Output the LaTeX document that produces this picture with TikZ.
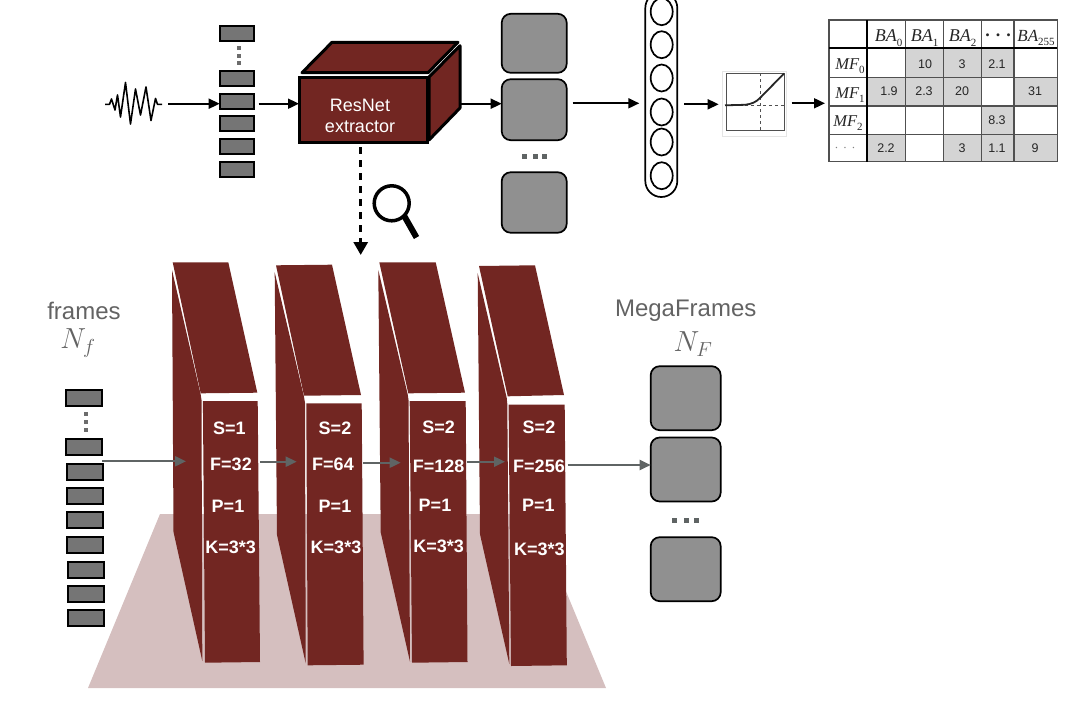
\documentclass[tikz,border=0pt]{standalone}
\usepackage{fix-cm}
\usepackage{fontspec}
\setmainfont{Liberation Sans}
\newfontfamily\tms{Liberation Serif}
\usetikzlibrary{arrows.meta,shapes.geometric}
\definecolor{brick}{HTML}{722622}
\definecolor{framegray}{HTML}{757575}
\definecolor{megagray}{HTML}{909090}
\definecolor{linegray}{HTML}{5F6464}
\definecolor{labelgray}{HTML}{636363}
\definecolor{floorpink}{HTML}{D5BFBF}
\definecolor{cellgray}{HTML}{D4D4D4}
\definecolor{gridgray}{HTML}{505050}
\newcommand\fs[1]{\fontsize{#1}{#1}\selectfont}
\newcommand\tsym[3]{{\tms\itshape\fs{#3}#1\raisebox{-0.28em}{\upshape\fs{11}#2}}}
\tikzset{
  framebox/.style={draw=black,line width=2pt,fill=framegray,minimum width=34pt,minimum height=15pt,inner sep=0pt,outer sep=0pt},
  lowframe/.style={framebox,minimum width=36pt,minimum height=16pt},
  megabox/.style={draw=black,line width=1.7pt,fill=megagray,rounded corners=9pt,minimum width=65pt,minimum height=60pt,inner sep=0pt,outer sep=0pt},
  lowmega/.style={megabox,minimum width=70pt,minimum height=64pt},
  arr/.style={draw=black,line width=1.8pt,-{Triangle[length=11pt,width=10pt]}},
  grayarr/.style={draw=linegray,line width=2pt,-{Triangle[length=11pt,width=10pt]}},
  dotsq/.style={fill=#1,minimum width=5pt,minimum height=5pt,inner sep=0pt},
  neuron/.style={draw=black,line width=1.7pt,fill=white,ellipse,minimum width=22pt,minimum height=27pt,inner sep=0pt},
  brickface/.style={fill=brick,draw=none},
  blocktext/.style={text=white,font=\bfseries\fs{18},inner sep=0pt},
  sidelabel/.style={text=labelgray,inner sep=0pt},
  cellnum/.style={font=\fs{12.5},text=black!85,inner sep=0pt},
  thead/.style={inner sep=0pt,text=black!85},
}
\begin{document}
\begin{tikzpicture}[x=1pt,y=-1pt]
\useasboundingbox (0,0) rectangle (1084,704);
\begin{scope}
\clip (0,0) rectangle (1084,704);

% ---------- top row ----------
\draw[line width=1.6pt,line join=round] (105,104.3)--(109.5,104.3)--(111.5,99)--(115,110)--(117.5,95)--(120.5,117)--(125.5,82.5)--(130.5,124)--(135.5,89)--(140.5,115)--(146,87)--(151,120.5)--(155.5,98.5)--(157.5,104.3)--(162,104.3);
\coordinate (waveend) at (162,103.7);

\foreach \n/\y in {a/33,b/78.5,c/101,d/123.5,e/146.5,f/169.5}
  \node[framebox] (top\n) at (236.7,\y) {};
\foreach \y in {48,56,63}
  \node[dotsq=gray!85!black,minimum width=3.5pt,minimum height=4pt] (tdot\y) at (239,\y) {};

% ResNet box
\node[draw=black,line width=3pt,fill=brick,minimum width=128pt,minimum height=65pt,inner sep=0pt,outer sep=0pt] (resnet) at (363,109.5) {};
\draw[line width=3pt,fill=brick,line join=round] (302,72.7)--(332,42.3)--(458,42.3)--(428,72.7)--cycle;
\draw[line width=3pt,fill=brick,line join=round] (429,77)--(460,45.7)--(460,108)--(429,140)--cycle;
\coordinate (cubeside) at (460,103.7);
\node[text=white,font=\fs{18},align=center,inner sep=0pt] (resnetlabel) at (360,115.5) {ResNet\\[3pt]extractor};

\foreach \n/\y/\h in {a/43.3/59,b/109.7/61,c/202.5/60.5}
  \node[megabox,minimum height=\h pt] (mega\n) at (534.2,\y) {};
\foreach \x in {524,535,544}
  \node[dotsq=linegray] (mdot\x) at (\x,156.7) {};

\node[draw=black,line width=1.7pt,fill=white,rounded corners=16pt,minimum width=32pt,minimum height=205pt,inner sep=0pt,outer sep=0pt] (capsule) at (661.3,94.5) {};
\foreach \n/\y in {a/11.7,b/44.7,c/78,d/112,e/142,f/175.7}
  \node[neuron] (n\n) at (661.7,\y) {};

% activation tile
\node[fill=white,draw=black!10,line width=0.8pt,minimum width=64pt,minimum height=65pt,inner sep=0pt,outer sep=0pt] (acttile) at (754.7,103.5) {};
\node[draw=gridgray,line width=1.2pt,minimum width=58pt,minimum height=57pt,inner sep=0pt,outer sep=0pt] (actbox) at (755.8,101.7) {};
\draw[gridgray,line width=1pt,dash pattern=on 3pt off 3pt] (actbox.west |- 0,105.3) -- (actbox.east |- 0,105.3);
\draw[gridgray,line width=1pt,dash pattern=on 3pt off 3pt] (760,73.3) -- (760,130);
\draw[black!85,line width=1.8pt] (725,105.3) -- (745,104.8) .. controls (752,104) and (756,102) .. (760,98) -- (784,73.5);

% table
\foreach \xa/\ya/\xb/\yb in {
  905.7/48.3/943.3/77.3, 943.3/48.3/981.7/77.3, 981.7/48.3/1014/77.3,
  867/77.3/905.7/106, 905.7/77.3/943.3/106, 943.3/77.3/981.7/106, 1014/77.3/1057.3/106,
  981.7/106/1014/134.3,
  867/134.3/905.7/161.7, 943.3/134.3/981.7/161.7, 981.7/134.3/1014/161.7, 1014/134.3/1057.3/161.7}
  \fill[cellgray] (\xa,\ya) rectangle (\xb,\yb);
\draw[gridgray,line width=1.2pt] (829,20) rectangle (1057.3,161.7);
\foreach \x in {905.7,943.3,981.7,1014}
  \draw[gridgray,line width=1.2pt] (\x,20) -- (\x,161.7);
\foreach \y in {77.3,106,134.3}
  \draw[gridgray,line width=1.2pt] (829,\y) -- (1057.3,\y);
\draw[black,line width=1.8pt] (867,20) -- (867,161.7);
\draw[black,line width=1.8pt] (829,48.3) -- (1057.3,48.3);
\node[thead] (hba0) at (888.5,38) {\tsym{BA}{0}{18}};
\node[thead] (hba1) at (924.5,38) {\tsym{BA}{1}{18}};
\node[thead] (hba2) at (962.5,38) {\tsym{BA}{2}{18}};
\node[thead] (hdots) at (998,35) {\tms\bfseries\fs{18}. . .};
\node[thead] (hba255) at (1036,38) {\tsym{BA}{255}{17}};
\node[thead] (rmf0) at (850,66) {\tsym{MF}{0}{16.5}};
\node[thead] (rmf1) at (850,95) {\tsym{MF}{1}{16.5}};
\node[thead] (rmf2) at (848,123) {\tsym{MF}{2}{16.5}};
\node[thead,text=gray] (rdots) at (845,148) {\tms\fs{14}$\cdot$\,\,$\cdot$\,\,$\cdot$};
\foreach \n/\x/\y/\t in {
  c1/925/64/10, c2/962/64/3, c3/997/64/2.1,
  c4/889/91.5/1.9, c5/924/91.5/2.3, c6/962/91.5/20, c7/1035/91.5/31,
  c8/997/120.5/8.3,
  c9/886/148/2.2, c10/962/148/3, c11/997/148/1.1, c12/1035/148/9}
  \node[cellnum] (\n) at (\x,\y) {\t};

% top arrows
\draw[arr,shorten <=6pt] (waveend) -- (topc.west |- waveend);
\draw[arr,shorten <=5pt] (topc.east |- waveend) -- (resnet.west |- waveend);
\draw[arr] (cubeside) -- (megab.west |- cubeside);
\draw[arr,shorten <=6pt,shorten >=6pt] (megab.east |- 0,103.3) -- (capsule.west |- 0,103.3);
\draw[arr,shorten <=7pt,shorten >=4pt] (capsule.east |- 0,104.3) -- (acttile.west |- 0,104.3);
\draw[arr,shorten <=5pt,shorten >=4pt] (acttile.east |- 0,103.3) -- (829,103.3);

% zoom arrow and magnifier
\coordinate (zoomend) at (360.7,255);
\draw[black,line width=3pt,dash pattern=on 7pt off 6pt,shorten <=5pt,-{Triangle[length=13pt,width=14pt]}] (zoomend |- resnet.south) -- (zoomend);
\node[draw=black,line width=3.5pt,circle,minimum size=35pt,inner sep=0pt,outer sep=0pt,fill=white] (lens) at (391.7,203.3) {};
\draw[black,line width=6pt] (lens.south east) -- (416.5,237.5);

% ---------- lower part ----------
\fill[floorpink] (160,514) -- (534,514) -- (606,688) -- (88,688) -- cycle;

% blocks
\fill[brickface] (172.7,262.3)--(228.3,262.3)--(257.3,392.7)--(200.7,393.3)--cycle;
\fill[brickface] (172,270)--(200.7,394.5)--(201.5,400)--(202.3,661)--(173.5,532)--cycle;
\fill[brickface] (202.9,401)--(257.7,401)--(260,662)--(205,662.7)--cycle;

\fill[brickface] (276,265.3)--(332,264.7)--(361,395)--(304,395.7)--cycle;
\fill[brickface] (274.7,272.3)--(304,396.7)--(305,403)--(305.7,663.3)--(277,535)--cycle;
\fill[brickface] (306.3,403.3)--(361.7,403.3)--(363.6,664.7)--(307.7,665.3)--cycle;

\fill[brickface] (379.3,262.3)--(435.7,262.3)--(465,392.7)--(408.3,393.3)--cycle;
\fill[brickface] (378.3,270)--(407.7,394.3)--(408.5,400)--(410,661.7)--(380.7,532.3)--cycle;
\fill[brickface] (409.7,401)--(465.7,401)--(467.5,662)--(412,662.7)--cycle;

\fill[brickface] (479,266)--(535,265.3)--(564,395)--(507.7,396.3)--cycle;
\fill[brickface] (477.7,273.3)--(506.7,397.7)--(507.3,404)--(509.3,664)--(480,534.3)--cycle;
\fill[brickface] (508.6,404.7)--(564.7,404.7)--(566.8,665.3)--(511,666)--cycle;

% anchors on the blocks
\coordinate (b1in) at (186,461.3);
\coordinate (b1out) at (260,461.7);
\coordinate (b2in) at (296.7,461.7);
\coordinate (b2out) at (363.3,462.7);
\coordinate (b3in) at (400.7,462.7);
\coordinate (b3out) at (466.7,461.7);
\coordinate (b4in) at (505,461.7);
\coordinate (b4out) at (567.7,465);

% lower frames
\foreach \n/\x/\y in {a/83.6/398.2,b/84.3/447,c/84.6/471.7,d/84.6/495.5,e/85.3/520,f/85.3/544.7,g/85.6/569.5,h/85.6/594,i/85.6/618}
  \node[lowframe] (low\n) at (\x,\y) {};
\foreach \y in {414.3,422.3,430}
  \node[dotsq=gray!85!black,minimum width=4pt,minimum height=4pt] (ldot\y) at (86,\y) {};

% lower megaframes
\node[lowmega] (lmega) at (685.7,398.2) {};
\node[lowmega] (lmegb) at (685.7,469.5) {};
\node[lowmega] (lmegc) at (685.7,569.2) {};
\foreach \x in {674.3,686,696.7}
  \node[dotsq=linegray] (ldot\x) at (\x,520) {};

% block texts
\foreach \n/\x/\y/\t in {
  s1/229.3/428.3/S=1, f1/231/464/F=32, p1/228/506/P=1, k1/230.7/547.7/K=3*3,
  s2/335/428.3/S=2, f2/333/464/F=64, p2/335/506/P=1, k2/336/547.7/K=3*3,
  s3/438.7/427.7/S=2, f3/438.7/466/F=128, p3/435/505/P=1, k3/438.7/546.7/K=3*3,
  s4/539/427.7/S=2, f4/539/466.7/F=256, p4/538.3/505/P=1, k4/539.3/549/K=3*3}
  \node[blocktext] (\n) at (\x,\y) {\t};

% lower arrows
\draw[grayarr] (lowb.east |- b1in) -- (b1in);
\draw[grayarr] (b1out) -- (b2in);
\draw[grayarr] (b2out) -- (b3in);
\draw[grayarr] (b3out) -- (b4in);
\draw[grayarr] (b4out) -- (lmegb.west |- b4out);

% labels
\node[sidelabel,font=\fs{24}] (framesl) at (84,311) {frames};
\node[sidelabel,font=\fs{29}] (nf) at (78,343) {$N_f$};
\node[sidelabel,font=\fs{24}] (megal) at (685.7,311) {MegaFrames};
\node[sidelabel,font=\fs{29}] (nF) at (693,344) {$N_F$};
\end{scope}
\end{tikzpicture}
\end{document}
